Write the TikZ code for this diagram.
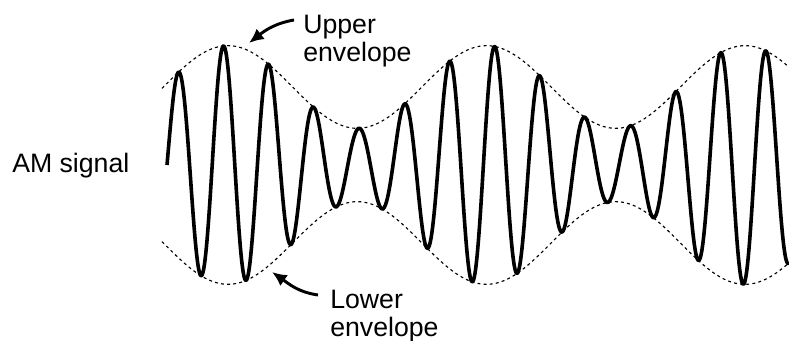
\documentclass[tikz,border=0pt]{standalone}
\usepackage{fontspec}
\setmainfont{Liberation Sans}
\usetikzlibrary{arrows.meta,positioning}

\begin{document}
\begin{tikzpicture}[x=0.75pt,y=0.75pt,
  every node/.style={font=\fontsize{20}{21}\selectfont, inner sep=0pt},
  env/.style={black, line width=0.85pt, dash pattern=on 2.2pt off 2.4pt},
  sig/.style={black, line width=2.7pt, line join=round},
  pointer/.style={-{Latex[length=11pt,width=10pt]}, line width=2.2pt}]
\useasboundingbox (0,0) rectangle (789,341);
% envelopes
\draw[env] plot[domain=162:789, samples=200] (\x, {176+78*(1+0.53*cos((\x-228)/258.5*360))});
\draw[env] plot[domain=162:789, samples=200] (\x, {176-78*(1+0.53*cos((\x-228)/258.5*360))});
% carrier
\draw[sig] plot[domain=167:789, samples=900] (\x, {176+78*(1+0.53*cos((\x-228)/258.5*360))*sin((\x-167)/45.2*360)});
% labels
\node[anchor=base west] (am) at (12,168) {AM signal};
\node[anchor=north west, align=left] (up) at (303,326) {Upper\\envelope};
\node[anchor=north west, align=left] (low) at (330,51) {Lower\\envelope};
\coordinate (uptip) at (249,298);
\coordinate (lowtip) at (272,69);
\draw[pointer] ([shift={(-9,-5)}]up.north west) to[out=190,in=38] (uptip);
\draw[pointer] ([shift={(-12,-5)}]low.north west) to[out=172,in=-35] (lowtip);
\end{tikzpicture}
\end{document}
